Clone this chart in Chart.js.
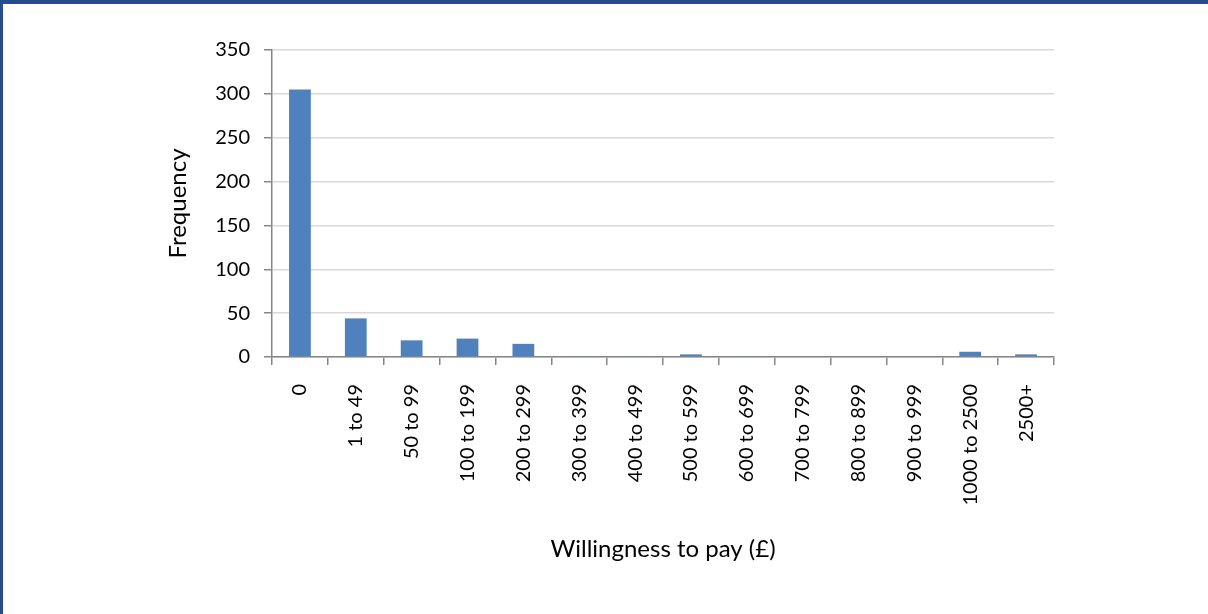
<!DOCTYPE html>
<html lang="en">

<head>
    <meta charset="UTF-8">
    <meta name="viewport" content="width=device-width, initial-scale=1.0">
    <title>Willingness to pay</title>
    <style>
        * {
            margin: 0;
            padding: 0;
            box-sizing: border-box;
        }

        html,
        body {
            height: 100%;
            width: 100%;
            background: #ffffff;
            overflow: hidden;
        }

        .container {
            position: absolute;
            left: 0;
            top: 0;
            width: 1208px;
            height: 614px;
        }

        .frame {
            position: absolute;
            left: 0;
            top: 0;
            width: 1208px;
            height: 614px;
            border-top: 4px solid #264b8f;
            border-left: 3px solid #264b8f;
            pointer-events: none;
        }
    </style>
    <script src="https://cdn.jsdelivr.net/npm/chart.js"></script>
</head>

<body>
    <div class="container">
        <canvas id="wtpChart" width="1208" height="614"></canvas>
    </div>
    <div class="frame"></div>

    <script>
        const categories = ['0', '1 to 49', '50 to 99', '100 to 199', '200 to 299', '300 to 399', '400 to 499',
            '500 to 599', '600 to 699', '700 to 799', '800 to 899', '900 to 999', '1000 to 2500', '2500+'];
        const frequency = [305, 44, 19, 21, 15, 1, 1, 3, 1, 0, 0, 0, 6, 3];
        const yTicks = [0, 50, 100, 150, 200, 250, 300, 350];

        const axisGrey = '#868686';
        const gridGrey = '#d9d9d9';
        const fontFamily = 'Lato, "Open Sans", sans-serif';

        function plotData() {
            const ctx = document.getElementById('wtpChart').getContext('2d');

            new Chart(ctx, {
                type: 'bar',
                data: {
                    labels: categories,
                    datasets: [{
                        label: 'Frequency',
                        data: frequency,
                        backgroundColor: '#4f81bd',
                        borderWidth: 0,
                        categoryPercentage: 1,
                        barPercentage: 0.39
                    }]
                },
                options: {
                    responsive: false,
                    animation: false,
                    layout: {
                        padding: { left: 150, top: 50, right: 154, bottom: 0 }
                    },
                    plugins: {
                        legend: { display: false },
                        tooltip: { enabled: false }
                    },
                    scales: {
                        x: {
                            grid: {
                                offset: true,
                                drawOnChartArea: false,
                                tickLength: 8,
                                tickColor: axisGrey,
                                lineWidth: 1.5
                            },
                            border: { color: axisGrey, width: 1.5 },
                            ticks: {
                                maxRotation: 90,
                                minRotation: 90,
                                padding: 19,
                                color: '#000000',
                                font: { family: fontFamily, size: 20 }
                            },
                            title: {
                                display: true,
                                text: 'Willingness to pay (£)',
                                color: '#000000',
                                font: { family: fontFamily, size: 24 },
                                padding: { top: 0, bottom: 50 }
                            },
                            afterFit: (scale) => {
                                scale.height = 614 - 357;
                            }
                        },
                        y: {
                            min: 0,
                            max: 350,
                            afterBuildTicks: (scale) => {
                                scale.ticks = yTicks.map(v => ({ value: v }));
                            },
                            grid: {
                                color: gridGrey,
                                tickColor: axisGrey,
                                tickLength: 8,
                                lineWidth: 1.5
                            },
                            border: { color: axisGrey, width: 1.5 },
                            ticks: {
                                padding: 14,
                                color: '#000000',
                                font: { family: fontFamily, size: 20 }
                            },
                            title: {
                                display: true,
                                text: 'Frequency',
                                color: '#000000',
                                font: { family: fontFamily, size: 24 },
                                padding: { top: 14, bottom: 0 }
                            },
                            afterFit: (scale) => {
                                scale.width = 272 - 150;
                            }
                        }
                    }
                }
            });
        }

        window.onload = plotData;
    </script>
</body>

</html>
